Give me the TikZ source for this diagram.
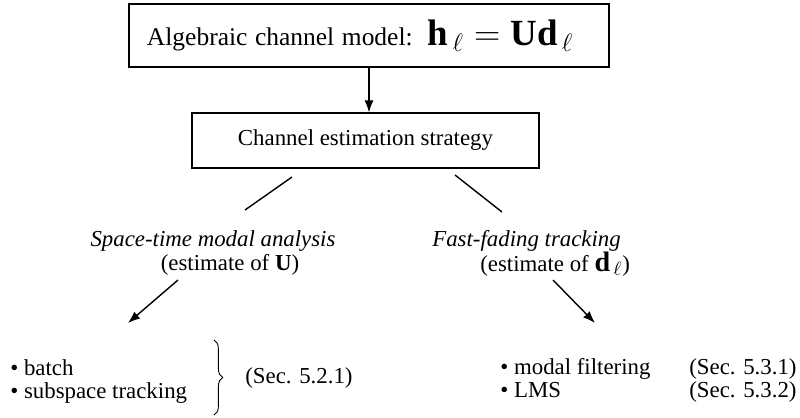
\documentclass[tikz,border=0pt]{standalone}
\usepackage{fontspec}
\setmainfont{Liberation Serif}
\usepackage{tikz}
\usetikzlibrary{arrows.meta}
\usetikzlibrary{decorations.pathreplacing}

\begin{document}
\begin{tikzpicture}[x=0.2mm, y=-0.2mm, every node/.style={font=\fontsize{13}{15}\selectfont, inner sep=0}]
            \useasboundingbox (0,0) rectangle (800,417);
            \node[draw, line width=0.6pt, text width=88.8mm, inner xsep=3.6mm, align=left, minimum height=12.6mm] (model) at (369,35.5) {\fontsize{14.5}{17}\selectfont Algebraic channel model:\ \ {\fontsize{21}{25}\selectfont$\textbf{h}_{\,\ell}=\textbf{Ud}_{\,\ell}$}};
            \node[draw, line width=0.6pt, minimum width=69.4mm, minimum height=11mm] (strategy) at (365.5,140.5) {Channel estimation strategy};
            \node[anchor=base] (modal) at (213,246) {\itshape Space-time modal analysis};
            \node[anchor=base] (estU) at (230,270) {(estimate of \textbf{U})};
            \node[anchor=base west] (fast) at (432,246) {\itshape Fast-fading tracking};
            \node[anchor=base west] (estd) at (480,271) {(estimate of {\fontsize{16}{18}\selectfont$\textbf{d}_{\,\ell}$})};
            \node[anchor=base west] (batch) at (10,375) {\textbullet\ batch};
            \node[anchor=base west] (subspace) at (10,398) {\textbullet\ subspace tracking};
            \node[anchor=base west] (secA) at (245,383) {(Sec. 5.2.1)};
            \node[anchor=base west] (filtering) at (500,374) {\textbullet\ modal filtering};
            \node[anchor=base west] (lms) at (500,397) {\textbullet\ LMS};
            \node[anchor=base west] (secB) at (689,374) {(Sec. 5.3.1)};
            \node[anchor=base west] (secC) at (689,397) {(Sec. 5.3.2)};
            \coordinate (l1) at (292,177);
            \coordinate (l2) at (245,210);
            \coordinate (r1) at (455,175);
            \coordinate (r2) at (502,212);
            \coordinate (a1) at (178,280);
            \coordinate (a2) at (128,323);
            \coordinate (b1) at (553,280);
            \coordinate (b2) at (595,323);
            \draw[line width=0.8pt, -{Latex[length=2.4mm, width=1.8mm]}] (model.south) -- (model.south |- strategy.north);
            \draw[line width=0.8pt] (l1) -- (l2) (r1) -- (r2);
            \draw[line width=0.8pt, -{Latex[length=2.4mm, width=1.8mm]}] (a1) -- (a2);
            \draw[line width=0.8pt, -{Latex[length=2.4mm, width=1.8mm]}] (b1) -- (b2);
            \draw[line width=0.5pt, decorate, decoration={brace, amplitude=5pt}] (214,340) -- (214,415);
        \end{tikzpicture}
\end{document}
